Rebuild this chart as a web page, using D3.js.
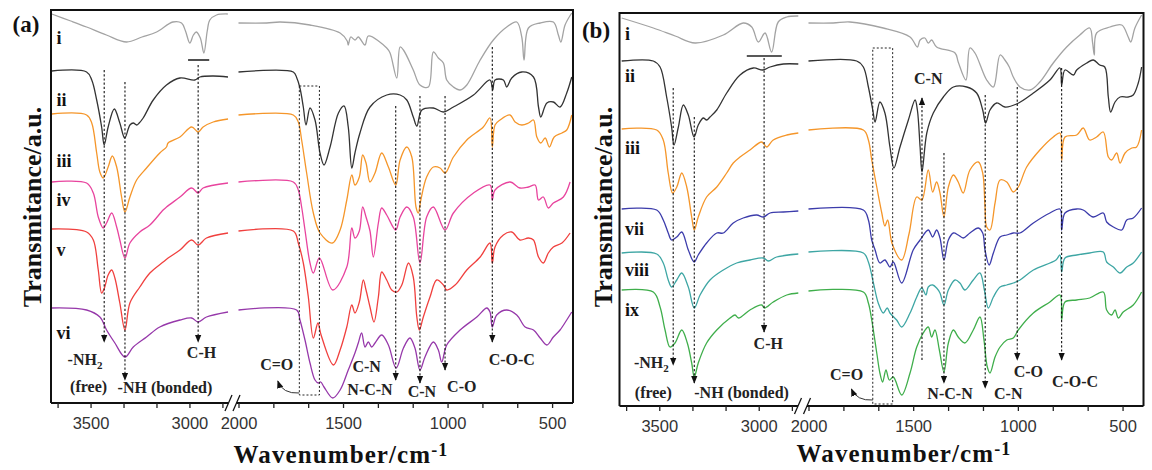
<!DOCTYPE html>
<html>
<head>
<meta charset="utf-8">
<script src="https://cdnjs.cloudflare.com/ajax/libs/d3/7.8.5/d3.min.js"></script>
<style>
  body { margin: 0; background: #fff; }
  svg { display: block; }
</style>
</head>
<body>
<svg id="chart" width="1152" height="470"></svg>
<script>
// spectra: [wavenumber cm-1, transmittance a.u. (stacked offset)] ---------------------------------
// panel (a) -----------------------------------------------------------------
const aI_L = [[3696,389],[3600,382],[3520,376],[3420,368],[3318,361],[3240,366],[3166,371],[3084,381],[3040,380],[3020,372],[2998,360],[2980,368],[2965,371],[2945,365],[2927,350],[2910,372],[2897,383],[2863,388],[2806,389]];
const aI_R = [[2000,380],[1865,380],[1801,381],[1658,378],[1514,370],[1480,362],[1475,358],[1463,366],[1443,363],[1427,366],[1395,358],[1379,367],[1291,355],[1275,350],[1243,325],[1227,356],[1211,353],[1164,333],[1132,318],[1092,316],[1068,351],[1044,345],[1020,340],[1004,323],[972,316],[940,313],[908,318],[844,343],[781,363],[717,376],[669,381],[645,366],[634,343],[613,375],[557,380],[494,381],[470,368],[458,361],[438,378],[406,390]];

const aII_L = [[3696,332],[3520,331],[3494,323],[3469,303],[3444,276],[3431,258],[3411,276],[3380,294],[3352,280],[3327,265],[3301,278],[3284,280],[3267,278],[3254,280],[3234,285],[3183,303],[3116,318],[3048,325],[2973,323],[2947,326],[2880,327],[2805,326]];
const aII_R = [[2000,331],[1738,331],[1721,325],[1706,315],[1690,296],[1677,278],[1658,295],[1634,283],[1610,250],[1591,238],[1562,256],[1522,290],[1495,297],[1475,276],[1458,235],[1443,250],[1419,270],[1371,296],[1291,308],[1227,308],[1195,303],[1164,286],[1147,277],[1123,293],[1068,295],[1020,291],[972,296],[876,308],[797,323],[784,313],[773,323],[733,323],[717,316],[693,325],[645,331],[589,326],[565,296],[554,286],[525,300],[494,301],[462,296],[430,310],[406,326]];

const aIII_L = [[3696,289],[3520,288],[3494,280],[3469,250],[3453,231],[3436,225],[3411,236],[3390,247],[3368,236],[3343,206],[3326,191],[3301,206],[3267,223],[3217,235],[3150,250],[3116,256],[3108,260],[3048,266],[2989,276],[2956,271],[2931,276],[2880,281],[2805,284]];
const aIII_R = [[2000,288],[1738,288],[1714,281],[1698,263],[1674,230],[1642,190],[1610,170],[1551,160],[1514,173],[1482,203],[1458,228],[1443,218],[1422,226],[1406,248],[1390,240],[1371,221],[1347,230],[1315,250],[1283,236],[1248,218],[1227,243],[1195,256],[1171,246],[1151,196],[1140,190],[1128,203],[1100,226],[1068,236],[1036,235],[1012,230],[972,246],[908,263],[829,276],[797,285],[786,256],[773,278],[749,283],[701,288],[677,281],[645,278],[613,280],[589,283],[573,266],[554,260],[533,265],[513,256],[490,266],[453,270],[430,273],[406,288]];

const aIV_L = [[3696,221],[3520,220],[3486,210],[3461,186],[3436,175],[3419,180],[3393,190],[3368,176],[3352,163],[3326,145],[3301,160],[3251,171],[3200,178],[3133,193],[3116,196],[3048,206],[2989,215],[2956,210],[2931,215],[2805,220]];
const aIV_R = [[2000,221],[1738,221],[1714,213],[1698,196],[1682,173],[1658,140],[1642,130],[1613,145],[1549,113],[1482,136],[1458,175],[1443,165],[1422,172],[1406,196],[1390,186],[1371,172],[1355,146],[1331,180],[1315,195],[1291,188],[1248,173],[1227,186],[1195,196],[1164,186],[1132,140],[1100,186],[1068,196],[1012,173],[972,190],[876,210],[797,218],[786,203],[773,213],[701,221],[654,215],[613,216],[581,218],[565,203],[542,206],[518,195],[494,200],[446,206],[414,221]];

const aV_L = [[3696,174],[3520,171],[3486,163],[3461,133],[3444,110],[3430,115],[3411,128],[3393,133],[3377,125],[3352,100],[3326,73],[3301,100],[3251,116],[3200,130],[3133,141],[3108,145],[3048,153],[2989,163],[2956,158],[2914,165],[2805,170]];
const aV_R = [[2000,172],[1738,172],[1714,160],[1690,140],[1666,106],[1642,65],[1620,80],[1605,68],[1546,38],[1514,53],[1482,76],[1458,98],[1443,90],[1422,101],[1403,123],[1390,113],[1371,96],[1352,81],[1331,106],[1315,131],[1291,123],[1267,113],[1243,111],[1219,118],[1187,140],[1164,126],[1147,86],[1135,73],[1116,86],[1084,106],[1052,123],[1020,118],[1004,113],[964,118],[908,133],[844,146],[797,160],[786,140],[773,156],[733,168],[693,171],[654,163],[613,165],[589,163],[565,146],[542,140],[518,150],[494,156],[453,160],[414,170]];

const aVI_L = [[3696,95],[3520,93],[3453,86],[3419,73],[3377,60],[3326,46],[3284,56],[3217,66],[3150,76],[3048,83],[2989,85],[2956,81],[2914,86],[2805,91]];
const aVI_R = [[2000,93],[1722,93],[1706,83],[1682,63],[1658,40],[1634,23],[1618,20],[1607,21],[1591,16],[1549,5],[1514,13],[1475,33],[1443,50],[1427,60],[1411,70],[1395,56],[1379,61],[1363,56],[1347,60],[1315,68],[1283,58],[1246,35],[1211,55],[1180,65],[1156,55],[1132,33],[1108,46],[1068,61],[1044,53],[1028,41],[1004,58],[940,73],[860,86],[812,95],[797,91],[786,76],[765,88],[717,93],[669,88],[629,76],[589,73],[557,65],[525,58],[494,66],[462,73],[430,83],[406,91]];

// panel (b) -----------------------------------------------------------------
const bI_L = [[3689,388],[3530,378],[3420,370],[3320,363],[3178,371],[3078,383],[3035,379],[3002,364],[2968,373],[2935,354],[2902,384],[2859,389],[2801,390]];
const bI_R = [[2000,383],[1882,383],[1802,384],[1643,378],[1515,369],[1480,359],[1467,366],[1444,368],[1428,363],[1412,366],[1388,359],[1300,353],[1285,344],[1248,326],[1229,358],[1205,353],[1149,326],[1117,319],[1085,351],[1062,346],[1041,339],[1022,329],[990,319],[942,316],[895,324],[831,343],[767,359],[704,371],[657,378],[643,363],[635,351],[624,373],[560,379],[504,381],[473,369],[461,364],[441,378],[409,391]];

const bII_L = [[3689,345],[3530,345],[3496,339],[3463,309],[3438,279],[3426,261],[3404,279],[3379,301],[3354,291],[3325,269],[3304,281],[3279,288],[3262,286],[3245,289],[3211,296],[3161,313],[3094,331],[3027,338],[2980,336],[2943,339],[2876,342],[2801,342]];
const bII_R = [[2000,345],[1770,345],[1738,339],[1714,319],[1693,296],[1682,284],[1659,304],[1635,293],[1611,259],[1592,238],[1563,259],[1523,286],[1491,306],[1480,296],[1467,259],[1458,234],[1435,273],[1404,293],[1356,309],[1308,319],[1244,319],[1197,313],[1168,296],[1154,283],[1133,296],[1101,303],[1062,299],[1006,302],[926,313],[847,326],[799,338],[791,321],[775,336],[735,331],[719,336],[671,343],[640,346],[609,341],[585,339],[568,309],[557,294],[536,304],[512,309],[473,309],[449,311],[425,323],[409,339]];

const bIII_L = [[3689,277],[3513,276],[3480,266],[3455,233],[3433,213],[3412,219],[3387,233],[3362,219],[3337,189],[3324,176],[3304,189],[3262,209],[3211,219],[3161,233],[3128,243],[3094,249],[3044,256],[2985,264],[2960,259],[2927,266],[2859,271],[2801,273]];
const bIII_R = [[2000,276],[1738,276],[1714,266],[1698,246],[1674,219],[1650,193],[1635,180],[1622,186],[1600,162],[1555,146],[1520,172],[1483,209],[1459,206],[1428,236],[1407,214],[1388,224],[1372,213],[1353,189],[1332,219],[1308,231],[1285,224],[1261,213],[1229,236],[1189,244],[1168,233],[1157,199],[1149,179],[1133,176],[1109,203],[1085,226],[1053,224],[1022,214],[998,219],[958,239],[895,256],[831,269],[799,273],[791,246],[775,269],[719,271],[688,278],[657,266],[624,269],[592,274],[568,249],[552,246],[528,253],[512,243],[488,253],[456,258],[433,259],[409,276]];

const bVII_L = [[3689,197],[3513,196],[3480,186],[3455,173],[3438,166],[3412,169],[3387,174],[3354,156],[3325,144],[3304,151],[3262,163],[3211,173],[3178,173],[3128,183],[3078,188],[3010,191],[2977,189],[2943,193],[2876,194],[2801,195]];
const bVII_R = [[2000,197],[1738,196],[1714,186],[1698,166],[1682,156],[1659,143],[1635,146],[1611,139],[1595,144],[1555,123],[1500,156],[1467,166],[1428,176],[1407,169],[1388,176],[1372,168],[1353,146],[1332,166],[1308,173],[1285,171],[1261,168],[1229,173],[1189,178],[1168,173],[1157,156],[1137,141],[1117,153],[1085,169],[1053,171],[1022,173],[990,173],[926,183],[847,193],[799,197],[791,176],[775,193],[719,197],[688,196],[640,189],[592,193],[576,184],[544,179],[504,176],[480,186],[449,188],[409,198]];

const bVIII_L = [[3689,153],[3513,152],[3480,143],[3455,126],[3438,119],[3412,126],[3387,133],[3354,119],[3324,98],[3295,111],[3245,126],[3178,136],[3111,143],[3044,146],[2977,148],[2952,145],[2910,149],[2801,152]];
const bVIII_R = [[2000,154],[1738,153],[1714,144],[1690,123],[1667,103],[1643,93],[1624,98],[1611,93],[1579,86],[1555,79],[1515,93],[1483,109],[1459,118],[1439,111],[1428,119],[1407,121],[1388,118],[1372,113],[1353,101],[1332,116],[1300,126],[1277,123],[1253,116],[1213,126],[1181,133],[1160,116],[1141,98],[1117,109],[1085,119],[1053,121],[1022,123],[990,126],[926,136],[818,146],[799,151],[791,134],[775,148],[719,151],[657,153],[592,154],[576,144],[544,139],[512,133],[480,139],[449,143],[409,154]];

const bIX_L = [[3689,116],[3530,114],[3496,99],[3471,76],[3446,59],[3421,63],[3387,76],[3359,63],[3337,43],[3324,29],[3304,43],[3262,63],[3211,76],[3144,88],[3119,91],[3102,88],[3044,96],[2985,101],[2971,98],[2927,104],[2859,111],[2801,113]];
const bIX_R = [[2000,115],[1738,114],[1714,103],[1698,86],[1674,53],[1659,33],[1646,24],[1630,36],[1614,26],[1595,29],[1555,11],[1515,33],[1483,59],[1452,73],[1428,79],[1412,69],[1396,76],[1375,56],[1353,34],[1332,63],[1308,76],[1285,69],[1253,63],[1213,76],[1181,89],[1162,66],[1146,39],[1133,33],[1109,49],[1085,59],[1053,66],[1022,68],[998,76],[926,93],[847,104],[799,111],[791,86],[775,104],[719,106],[657,108],[592,114],[576,96],[552,91],[536,96],[520,88],[497,94],[449,101],[409,114]];

// axis ticks
const leftTicks = [3666.7, 3500, 3333.3, 3166.7, 3000, 2833.3];
const rightTicks = [2000, 1833.3, 1666.7, 1500, 1333.3, 1166.7, 1000, 833.3, 666.7, 500];
const tickLabels = [3500, 3000, 2000, 1500, 1000, 500];

// peak annotations: [wavenumber, from a.u., arrow tip a.u.]
const arrowsA = [[3431,333,61],[3326,321,23],[2956,338,61],[1248,297,23],[1132,307,20],[1012,307,33],[786,356,61]];
const arrowsB = [[3430,318,41],[3324,289,23],[2973,348,74],[1458,46,308],[1353,253,23],[1156,311,18],[1003,319,46],[791,338,46]];
// C=O boxes [wn1, wn2, top, bottom], C-H bars [wn1, wn2, level]
const boxA = [1709, 1613, 317, 8];
const boxB = [1693, 1598, 358, 2];
const barA = [3007, 2900, 343];
const barB = [3060, 2884, 350];
// annotation texts [text, wavenumber, a.u. baseline]
const textsA = [['C-H',2939,45],['C=O',1817,33],['C-N',1387,31],['N-C-N',1371,8],['C-N',1123,6],['C-O',932,11],['C-O-C',693,38],['(free)',3510,11],['-NH (bonded)',3124,10]];
const textsB = [['C-H',2952,57],['C=O',1818,26],['C-N',1428,322],['N-C-N',1324,7],['C-N',1046,7],['C-O',950,29],['C-O-C',727,19],['(free)',3530,8],['-NH (bonded)',3086,8]];
const nh2A = [3528, 38];
const nh2B = [3540, 38];
// curved C=O arrow [start, control, end]
const curlA = [[1709,10],[1790,9],[1812,22]];
const curlB = [[1693,6],[1770,5],[1795,17]];

// curve labels [label, a.u. baseline]
const labelsA = [['i',359],['ii',297],['iii',236],['iv',197],['v',147],['vi',64]];
const labelsB = [['i',366],['ii',324],['iii',252],['vii',171],['viii',130],['ix',90]];

const colors = {
  i: '#a3a3a3', ii: '#333333', iii: '#f5962a', iv: '#e8449e', v: '#f0403e',
  vi: '#9638aa', vii: '#3c3cab', viii: '#3ea6a4', ix: '#3fae4b'
};

const seriesA = [
  { key: 'i', left: aI_L, right: aI_R },
  { key: 'ii', left: aII_L, right: aII_R },
  { key: 'iii', left: aIII_L, right: aIII_R },
  { key: 'iv', left: aIV_L, right: aIV_R },
  { key: 'v', left: aV_L, right: aV_R },
  { key: 'vi', left: aVI_L, right: aVI_R }
];
const seriesB = [
  { key: 'i', left: bI_L, right: bI_R },
  { key: 'ii', left: bII_L, right: bII_R },
  { key: 'iii', left: bIII_L, right: bIII_R },
  { key: 'vii', left: bVII_L, right: bVII_R },
  { key: 'viii', left: bVIII_L, right: bVIII_R },
  { key: 'ix', left: bIX_L, right: bIX_R }
];

// setup ----------------------------------------------------------------------------------------------
const svg = d3.select('#chart');
const serif = '"Liberation Serif", "Times New Roman", serif';
const sans = '"Liberation Sans", Arial, sans-serif';

svg.append('defs').append('marker')
    .attr('id', 'arr')
    .attr('viewBox', '0 0 10 10')
    .attr('refX', 9).attr('refY', 5)
    .attr('markerWidth', 8).attr('markerHeight', 8)
    .attr('markerUnits', 'userSpaceOnUse')
    .attr('orient', 'auto')
  .append('path')
    .attr('d', 'M0,1 L10,5 L0,9 z')
    .attr('fill', '#111');

function drawPanel(p) {
    const g = svg.append('g');
    const xL = d3.scaleLinear().domain([3700, 2800]).range([p.x0, p.xb0]);
    const xR = d3.scaleLinear().domain([2000, 400]).range([p.xb1, p.x1]);
    const y = d3.scaleLinear().domain([0, 393]).range([p.bottom, p.top]);
    const xOf = wn => wn > 2400 ? xL(wn) : xR(wn);

    // spectra
    const lineL = d3.line().x(d => xL(d[0])).y(d => y(d[1])).curve(d3.curveCatmullRom.alpha(0.5));
    const lineR = d3.line().x(d => xR(d[0])).y(d => y(d[1])).curve(d3.curveCatmullRom.alpha(0.5));
    p.series.forEach(s => {
        [[s.left, lineL], [s.right, lineR]].forEach(([pts, ln]) => {
            g.append('path')
                .attr('d', ln(pts))
                .attr('fill', 'none')
                .attr('stroke', colors[s.key])
                .attr('stroke-width', 1.3)
                .attr('stroke-linejoin', 'round');
        });
    });

    // curve labels
    g.selectAll('.lab')
        .data(p.labels)
        .join('text')
        .attr('x', xL(3672))
        .attr('y', d => y(d[1]))
        .attr('font-family', serif)
        .attr('font-weight', 'bold')
        .attr('font-size', 18)
        .attr('fill', '#111')
        .text(d => d[0]);

    // dashed peak markers
    g.selectAll('.arrow')
        .data(p.arrows)
        .join('line')
        .attr('x1', d => xOf(d[0])).attr('x2', d => xOf(d[0]))
        .attr('y1', d => y(d[1])).attr('y2', d => y(d[2]))
        .attr('stroke', '#111')
        .attr('stroke-width', 1.1)
        .attr('stroke-dasharray', '2.2,2')
        .attr('marker-end', 'url(#arr)');

    // C=O dotted box
    const b = p.box;
    g.append('rect')
        .attr('x', xR(b[0])).attr('y', y(b[2]))
        .attr('width', xR(b[1]) - xR(b[0]))
        .attr('height', y(b[3]) - y(b[2]))
        .attr('fill', 'none')
        .attr('stroke', '#222')
        .attr('stroke-width', 1)
        .attr('stroke-dasharray', '2,2');

    // C-H bar
    g.append('line')
        .attr('x1', xL(p.bar[0])).attr('x2', xL(p.bar[1]))
        .attr('y1', y(p.bar[2])).attr('y2', y(p.bar[2]))
        .attr('stroke', '#222').attr('stroke-width', 1.6);

    // curved arrow to C=O label
    const c = p.curl.map(d => [xR(d[0]), y(d[1])]);
    g.append('path')
        .attr('d', `M${c[0][0]},${c[0][1]} Q${c[1][0]},${c[1][1]} ${c[2][0]},${c[2][1]}`)
        .attr('fill', 'none')
        .attr('stroke', '#333')
        .attr('stroke-width', 1)
        .attr('marker-end', 'url(#arr)');

    // annotation texts
    g.selectAll('.ann')
        .data(p.texts)
        .join('text')
        .attr('x', d => xOf(d[1]))
        .attr('y', d => y(d[2]))
        .attr('text-anchor', 'middle')
        .attr('font-family', serif)
        .attr('font-weight', 'bold')
        .attr('font-size', 16)
        .attr('fill', '#222')
        .text(d => d[0]);

    const nh2 = g.append('text')
        .attr('x', xL(p.nh2[0]))
        .attr('y', y(p.nh2[1]))
        .attr('text-anchor', 'middle')
        .attr('font-family', serif)
        .attr('font-weight', 'bold')
        .attr('font-size', 16)
        .attr('fill', '#222');
    nh2.append('tspan').text('-NH');
    nh2.append('tspan').attr('font-size', 11).attr('dy', 4).text('2');

    // frame with broken bottom axis
    const fr = g.append('g').attr('stroke', '#111').attr('stroke-width', 2).attr('fill', 'none');
    fr.append('path').attr('d',
        `M${p.x0},${p.bottom}V${p.top}H${p.x1}V${p.bottom}` +
        `M${p.x0},${p.bottom}H${p.brk[0]}M${p.brk[1]},${p.bottom}H${p.x1}`);
    p.brk.forEach(bx => {
        fr.append('line')
            .attr('x1', bx - 3.5).attr('y1', p.bottom + 8)
            .attr('x2', bx + 3.5).attr('y2', p.bottom - 8)
            .attr('stroke-width', 1.3);
    });

    // axes ticks + labels
    const fmt = d => tickLabels.includes(d) ? String(d) : '';
    [[xL, leftTicks], [xR, rightTicks]].forEach(([sc, tv]) => {
        const ax = g.append('g')
            .attr('transform', `translate(0,${p.bottom})`)
            .call(d3.axisBottom(sc).tickValues(tv).tickFormat(fmt).tickSize(5).tickSizeOuter(0).tickPadding(9));
        ax.select('.domain').remove();
        ax.selectAll('line').attr('stroke', '#222').attr('stroke-width', 1.3);
        ax.selectAll('text')
            .attr('font-family', sans)
            .attr('font-size', 16.5)
            .attr('fill', '#333');
    });

    // axis titles
    const xt = g.append('text')
        .attr('x', p.xTitle[0]).attr('y', p.xTitle[1])
        .attr('text-anchor', 'middle')
        .attr('font-family', serif)
        .attr('font-weight', 'bold')
        .attr('font-size', 25)
        .attr('letter-spacing', 1.1)
        .attr('fill', '#111');
    xt.append('tspan').text('Wavenumber/cm');
    xt.append('tspan').attr('font-size', 18).attr('dy', -7).text('-1');

    g.append('text')
        .attr('transform', `translate(${p.yTitle[0]},${p.yTitle[1]}) rotate(-90)`)
        .attr('text-anchor', 'middle')
        .attr('font-family', serif)
        .attr('font-weight', 'bold')
        .attr('font-size', 26)
        .attr('fill', '#111')
        .text('Transmitance/a.u.');

    g.append('text')
        .attr('x', p.tag[0]).attr('y', p.tag[1])
        .attr('text-anchor', 'middle')
        .attr('font-family', serif)
        .attr('font-weight', 'bold')
        .attr('font-size', 23)
        .attr('fill', '#111')
        .text(p.tagText);
}

drawPanel({
    x0: 51, xb0: 229, xb1: 238.5, x1: 573, top: 10, bottom: 403, brk: [228.5, 236.5],
    series: seriesA, labels: labelsA, arrows: arrowsA, box: boxA, bar: barA,
    texts: textsA, nh2: nh2A, curl: curlA,
    xTitle: [341, 463], yTitle: [41, 207], tag: [26, 32], tagText: '(a)'
});
drawPanel({
    x0: 619.5, xb0: 798.5, xb1: 808.5, x1: 1143.5, top: 13, bottom: 406, brk: [798, 807],
    series: seriesB, labels: labelsB, arrows: arrowsB, box: boxB, bar: barB,
    texts: textsB, nh2: nh2B, curl: curlB,
    xTitle: [904, 462], yTitle: [612, 207], tag: [596, 38], tagText: '(b)'
});
</script>
</body>
</html>
